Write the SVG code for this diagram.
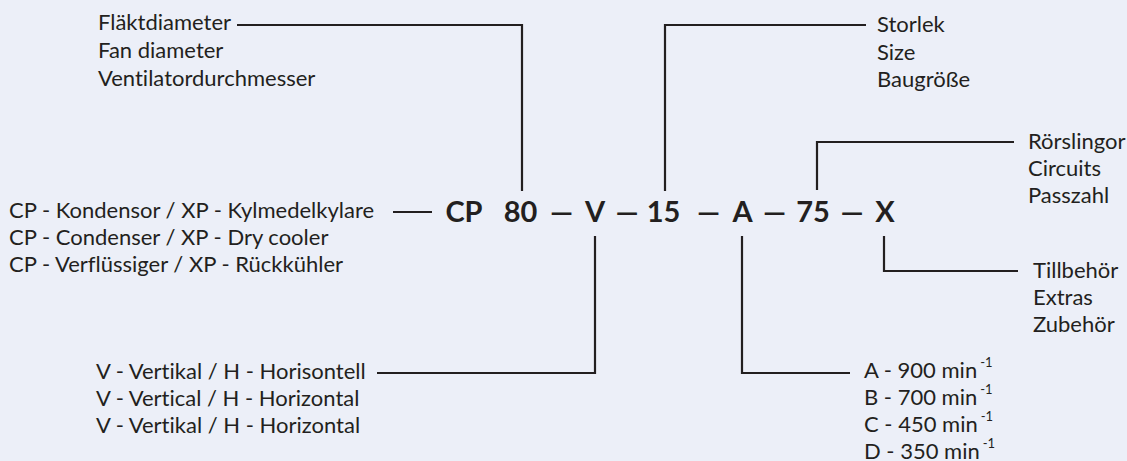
<svg xmlns="http://www.w3.org/2000/svg" width="1127" height="461" viewBox="0 0 1127 461">
<style>
.t{font-family:Lato,"Open Sans","Liberation Sans",sans-serif;font-size:22px;fill:#231f20;font-variant-ligatures:none}
.c{font-family:Lato,"Liberation Sans",sans-serif;font-size:29px;font-weight:700;fill:#231f20;text-anchor:middle}
.sup{font-size:13px}
.ln{fill:none;stroke:#231f20;stroke-width:2.2}
</style>
<rect width="1127" height="461" fill="#eceff8"/>
<g id="connectors">
<path class="ln" d="M237,25 H522 V191"/>
<path class="ln" d="M866,25 H665 V191"/>
<path class="ln" d="M1014,142 H817 V190"/>
<path class="ln" d="M393,212 H432"/>
<path class="ln" d="M377,373 H595 V236"/>
<path class="ln" d="M850,373 H742 V236"/>
<path class="ln" d="M1018,271 H884 V236"/>
</g>
<g id="code">
<text class="c" x="464" y="222">CP</text>
<text class="c" x="520.5" y="222">80</text>
<text class="c" x="561.5" y="222">—</text>
<text class="c" x="595" y="222">V</text>
<text class="c" x="627" y="222">—</text>
<text class="c" x="663.5" y="222">15</text>
<text class="c" x="708.7" y="222">—</text>
<text class="c" x="742.5" y="222">A</text>
<text class="c" x="774.7" y="222">—</text>
<text class="c" x="813" y="222">75</text>
<text class="c" x="852" y="222">—</text>
<text class="c" x="885" y="222">X</text>
</g>
<g id="fan-diameter">
<text class="t" x="98" y="30">Fläktdiameter</text>
<text class="t" x="98" y="58">Fan diameter</text>
<text class="t" x="98" y="86">Ventilatordurchmesser</text>
</g>
<g id="size">
<text class="t" x="877" y="32">Storlek</text>
<text class="t" x="877" y="60">Size</text>
<text class="t" x="877" y="87">Baugröße</text>
</g>
<g id="circuits">
<text class="t" x="1028" y="149">Rörslingor</text>
<text class="t" x="1028" y="176">Circuits</text>
<text class="t" x="1028" y="203">Passzahl</text>
</g>
<g id="type">
<text class="t" x="9" y="218">CP - Kondensor / XP - Kylmedelkylare</text>
<text class="t" x="9" y="245">CP - Condenser / XP - Dry cooler</text>
<text class="t" x="9" y="272">CP - Verflüssiger / XP - Rückkühler</text>
</g>
<g id="extras">
<text class="t" x="1033" y="278">Tillbehör</text>
<text class="t" x="1033" y="305">Extras</text>
<text class="t" x="1033" y="332">Zubehör</text>
</g>
<g id="orientation">
<text class="t" x="96" y="379">V - Vertikal / H - Horisontell</text>
<text class="t" x="96" y="406">V - Vertical / H - Horizontal</text>
<text class="t" x="96" y="433">V - Vertikal / H - Horizontal</text>
</g>
<g id="fan-speed">
<text class="t" x="864" y="378">A - 900 min<tspan class="sup" dx="3" dy="-11">-1</tspan></text>
<text class="t" x="864" y="405">B - 700 min<tspan class="sup" dx="3" dy="-11">-1</tspan></text>
<text class="t" x="864" y="432">C - 450 min<tspan class="sup" dx="3" dy="-11">-1</tspan></text>
<text class="t" x="864" y="459">D - 350 min<tspan class="sup" dx="3" dy="-11">-1</tspan></text>
</g>
</svg>
